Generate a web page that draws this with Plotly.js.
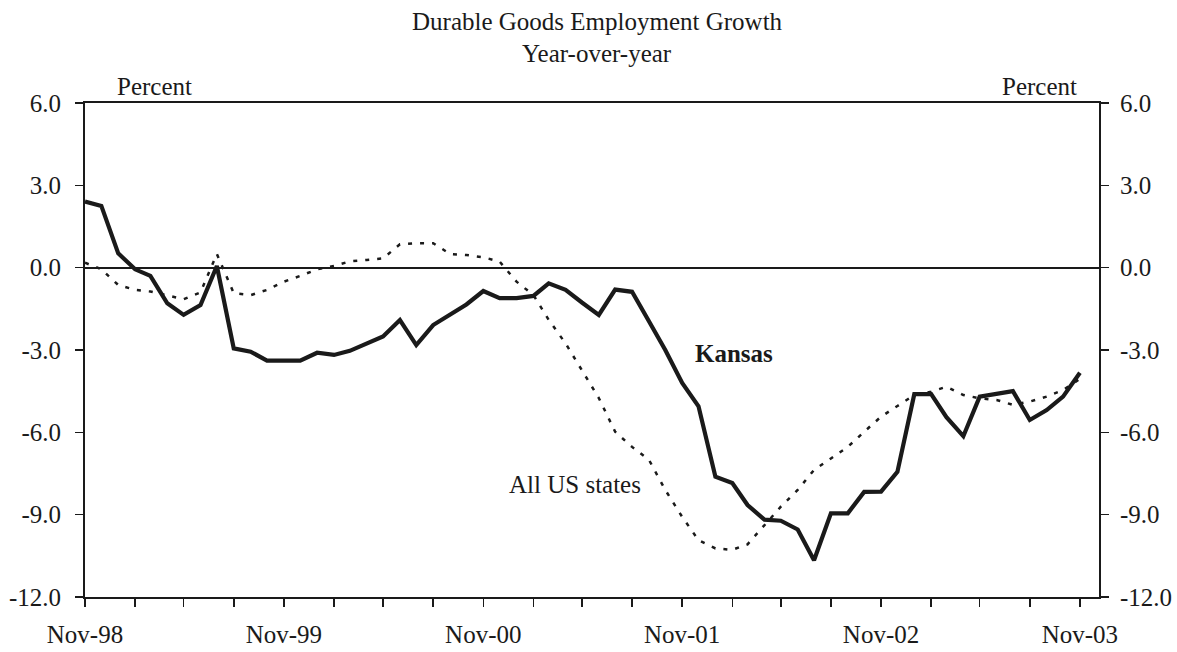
<!DOCTYPE html>
<html>
<head>
<meta charset="utf-8">
<script src="https://cdn.plot.ly/plotly-3.0.1.min.js"></script>
<style>html,body{margin:0;padding:0;background:#fff;}#chart{width:1177px;height:652px;}</style>
</head>
<body>
<div id="chart"></div>
<script>
// Monthly, Nov-1998 .. Nov-2003
const startYear = 1998, startMonth = 11, nMonths = 61;
const months = [];
for (let i = 0; i < nMonths; i++) {
  const m = startMonth - 1 + i;
  const y = startYear + Math.floor(m / 12);
  const mm = (m % 12) + 1;
  months.push(y + '-' + String(mm).padStart(2, '0') + '-01');
}

const kansas = [
  2.41, 2.25, 0.52, -0.06, -0.30, -1.30, -1.72, -1.36, 0.06, -2.94,
  -3.06, -3.39, -3.39, -3.39, -3.10, -3.18, -3.03, -2.78, -2.51, -1.91,
  -2.82, -2.09, -1.72, -1.34, -0.85, -1.11, -1.11, -1.03, -0.57, -0.81,
  -1.27, -1.72, -0.80, -0.88, -1.95, -3.00, -4.20, -5.05, -7.62, -7.85,
  -8.65, -9.18, -9.22, -9.54, -10.66, -8.95, -8.95, -8.17, -8.16, -7.44,
  -4.61, -4.61, -5.45, -6.14, -4.70, -4.58, -4.50, -5.55, -5.19, -4.70,
  -3.83
];

const usStates = [
  0.18, -0.06, -0.63, -0.81, -0.87, -1.00, -1.15, -0.90, 0.50, -0.93,
  -1.00, -0.81, -0.51, -0.30, -0.06, 0.06, 0.23, 0.28, 0.34, 0.85,
  0.89, 0.89, 0.50, 0.46, 0.38, 0.22, -0.51, -1.00, -1.90, -2.76,
  -3.73, -4.75, -5.98, -6.53, -7.00, -8.10, -9.08, -9.93, -10.23, -10.28,
  -10.08, -9.38, -8.71, -8.10, -7.37, -6.95, -6.53, -5.98, -5.43, -5.04,
  -4.64, -4.52, -4.34, -4.64, -4.76, -4.82, -5.00, -4.88, -4.70, -4.46,
  -4.05
];

const yTicks = [6, 3, 0, -3, -6, -9, -12];
const seriesNames = ['Kansas', 'All US states'];
const xEnd = '2003-12-06';

const serif = 'Liberation Serif, Times New Roman, serif';
const ink = '#1a1a1a';
const fs = 25;

const traces = [
  {
    x: months, y: usStates, type: 'scatter', mode: 'lines', name: seriesNames[1],
    line: {color: ink, width: 2.5, dash: '4px,8px'}, hoverinfo: 'skip'
  },
  {
    x: months, y: kansas, type: 'scatter', mode: 'lines', name: seriesNames[0],
    line: {color: ink, width: 4.2}, hoverinfo: 'skip'
  },
  {
    x: months, y: kansas, type: 'scatter', mode: 'lines', yaxis: 'y2',
    line: {color: 'rgba(0,0,0,0)', width: 0}, showlegend: false, hoverinfo: 'skip'
  }
];

const yCommon = {
  range: [-12, 6], tickvals: yTicks, ticktext: yTicks.map(v => v.toFixed(1)),
  ticks: 'outside', ticklen: 8, tickwidth: 1.5, tickcolor: ink,
  showgrid: false, showline: true, linecolor: ink, linewidth: 2,
  tickfont: {family: serif, size: fs, color: ink}, fixedrange: true
};

const layout = {
  width: 1177, height: 652,
  margin: {l: 85, r: 78, t: 103, b: 55},
  paper_bgcolor: '#fff', plot_bgcolor: '#fff',
  showlegend: false,
  font: {family: serif, color: ink},
  xaxis: {
    type: 'date',
    range: [months[0], xEnd],
    tick0: months[0], dtick: 'M12', tickformat: '%b-%y',
    ticks: 'outside', ticklen: 8, tickwidth: 1.5, tickcolor: ink,
    minor: {dtick: 'M3', tick0: months[0], ticks: 'outside', ticklen: 8, tickwidth: 1.5, tickcolor: ink, showgrid: false},
    ticklabelstandoff: 6,
    showgrid: false, showline: true, linecolor: ink, linewidth: 2, mirror: true,
    tickfont: {family: serif, size: fs, color: ink}, fixedrange: true
  },
  yaxis: Object.assign({}, yCommon, {side: 'left', zeroline: true, zerolinecolor: ink, zerolinewidth: 2, ticklabelstandoff: 9}),
  yaxis2: Object.assign({}, yCommon, {side: 'right', overlaying: 'y', zeroline: false, ticklabelstandoff: 6}),
  annotations: [
    {text: 'Durable Goods Employment Growth', xref: 'paper', yref: 'paper', x: 0.505, xanchor: 'center', y: (597 - 22) / 494, showarrow: false, font: {family: serif, size: fs, color: ink}, yanchor: 'middle'},
    {text: 'Year-over-year', xref: 'paper', yref: 'paper', x: 0.505, xanchor: 'center', y: (597 - 53) / 494, showarrow: false, font: {family: serif, size: fs, color: ink}, yanchor: 'middle'},
    {text: 'Percent', xref: 'paper', yref: 'paper', x: (154 - 85) / 1014, xanchor: 'center', y: (597 - 87) / 494, yanchor: 'middle', showarrow: false, font: {family: serif, size: fs, color: ink}},
    {text: 'Percent', xref: 'paper', yref: 'paper', x: (1039 - 85) / 1014, xanchor: 'center', y: (597 - 87) / 494, yanchor: 'middle', showarrow: false, font: {family: serif, size: fs, color: ink}},
    {text: '<b>Kansas</b>', xref: 'x', yref: 'y', x: '2002-02-05', xanchor: 'center', y: -3.11, showarrow: false, font: {family: serif, size: fs, color: ink}},
    {text: 'All US states', xref: 'x', yref: 'y', x: '2001-04-18', xanchor: 'center', y: -7.89, showarrow: false, font: {family: serif, size: fs, color: ink}}
  ]
};

Plotly.newPlot('chart', traces, layout, {staticPlot: true, displayModeBar: false});
</script>
</body>
</html>
